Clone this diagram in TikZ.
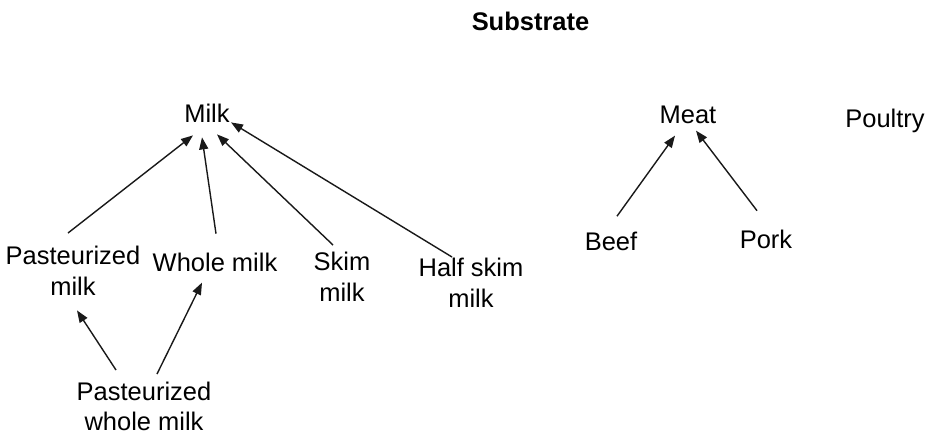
\documentclass[tikz,border=0pt]{standalone}
\usepackage{fontspec}
\setmainfont{Liberation Sans}
\usepackage{tikz}
\usetikzlibrary{arrows.meta,positioning}

\begin{document}
\begin{tikzpicture}[
    x=0.02cm, y=-0.02cm,
    lbl/.style={inner sep=2pt, align=center, font=\fontsize{14.5}{17.2}\selectfont},
    hdr/.style={inner sep=2pt, font=\fontsize{14.5}{17.2}\selectfont\bfseries},
    arr/.style={-{Triangle[length=2.4mm,width=1.8mm]}, line width=0.8pt, black!90}
]
\useasboundingbox (0,0) rectangle (933,434);

% Title
\node[hdr, anchor=base] (sub) at (530.5,30) {Substrate};

% Milk group
\node[lbl, anchor=base] (milk) at (207,122) {Milk};
\node[lbl, anchor=north] (pmilk) at (73,242.5) {Pasteurized\\milk};
\node[lbl, anchor=base] (wmilk) at (215,271) {Whole milk};
\node[lbl, anchor=north] (skim) at (342,248.5) {Skim\\milk};
\node[lbl, anchor=north] (hskim) at (471,254.5) {Half skim\\milk};
\node[lbl, anchor=north] (pwm) at (144,378) {Pasteurized\\whole milk};

% Meat group
\node[lbl, anchor=base] (meat) at (688,123) {Meat};
\node[lbl, anchor=base] (beef) at (611,250) {Beef};
\node[lbl, anchor=base] (pork) at (766,248) {Pork};
\node[lbl, anchor=base] (poultry) at (885,127) {Poultry};

% Arrows to Milk
\draw[arr] ([shift={(-5,-9.5)}]pmilk.north) -- ([shift={(-14,9.5)}]milk.south);
\draw[arr] ([shift={(1,-15)}]wmilk.north) -- ([shift={(-5,11.5)}]milk.south);
\draw[arr] ([shift={(-9,-3.5)}]skim.north) -- ([shift={(10,8.5)}]milk.south);
\draw[arr] ([shift={(-19,2.5)}]hskim.north) -- ([shift={(24,-3.5)}]milk.south);

% Arrows from pasteurized whole milk
\draw[arr] ([shift={(-28,-8)}]pwm.north) -- ([shift={(4,11.5)}]pmilk.south);
\draw[arr] ([shift={(13,-4)}]pwm.north) -- ([shift={(-13,7.5)}]wmilk.south);

% Arrows to Meat
\draw[arr] ([shift={(6,-11.5)}]beef.north) -- ([shift={(-13,8.5)}]meat.south);
\draw[arr] ([shift={(-9,-15)}]pork.north) -- ([shift={(8,3.5)}]meat.south);

\end{tikzpicture}
\end{document}
